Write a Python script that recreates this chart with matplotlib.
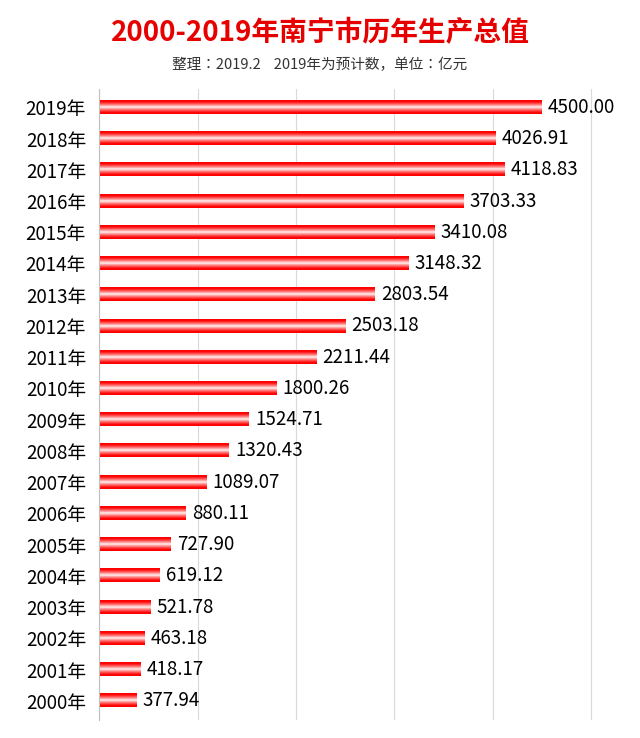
import numpy as np
import matplotlib.pyplot as plt

plt.rcParams["font.family"] = "sans-serif"
plt.rcParams["font.sans-serif"] = ["Noto Sans CJK SC", "Noto Sans CJK JP",
                                   "Noto Sans CJK TC", "DejaVu Sans"]

YEARS = [f"{y}年" for y in range(2000, 2020)]
GDP = [377.94, 418.17, 463.18, 521.78, 619.12, 727.90, 880.11, 1089.07,
       1320.43, 1524.71, 1800.26, 2211.44, 2503.18, 2803.54, 3148.32,
       3410.08, 3703.33, 4118.83, 4026.91, 4500.00]

TITLE = "2000-2019年南宁市历年生产总值"
SUBTITLE = "整理：2019.2    2019年为预计数，单位：亿元"

fig = plt.figure(figsize=(6.4, 7.38), dpi=100)
ax = fig.add_axes([0.155, 0.025, 0.83, 0.855])

# vertical red -> white -> red gradient for bars
t = np.linspace(-1, 1, 64)
g = np.clip(np.abs(t) ** 0.8 * 1.2, 0, 1)
grad = np.zeros((64, 1, 3))
grad[:, 0, 0] = 1.0
grad[:, 0, 1] = 1 - g
grad[:, 0, 2] = 1 - g
h = 0.42

y = np.arange(len(GDP))
for yi, v in zip(y, GDP):
    ax.imshow(grad, extent=[0, v, yi - h / 2, yi + h / 2], aspect="auto",
              interpolation="bilinear", zorder=2)
    ax.text(v + 60, yi, f"{v:.2f}", va="center", ha="left", fontsize=13.5,
            zorder=3)

ax.set_ylim(-0.6, len(GDP) - 0.4)
ax.set_xlim(0, 5400)
ax.set_yticks(y)
ax.set_yticklabels(YEARS, fontsize=13.5)
ax.set_xticks(np.arange(0, 5001, 1000))
ax.tick_params(axis="x", bottom=False, labelbottom=False)
ax.tick_params(axis="y", left=False, pad=6)
ax.grid(axis="x", color="#d9d9d9", linewidth=0.8, zorder=0)
for s in ["top", "right", "bottom"]:
    ax.spines[s].set_visible(False)
ax.spines["left"].set_color("#bfbfbf")

fig.text(0.5, 0.955, TITLE, ha="center", va="center", color="#e60000",
         fontsize=20, fontweight="bold")
fig.text(0.5, 0.912, SUBTITLE, ha="center", va="center", color="#333333",
         fontsize=10.5)

fig.savefig("out.png", dpi=100)
